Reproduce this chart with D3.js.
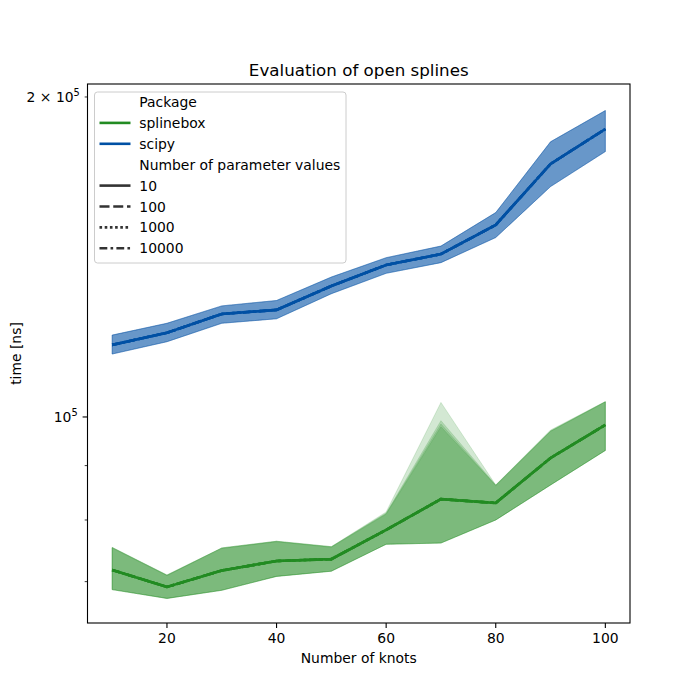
<!DOCTYPE html>
<html>
<head>
<meta charset="utf-8">
<script src="https://cdn.jsdelivr.net/npm/d3@7"></script>
<style>
  body { margin: 0; background: #fff; }
  svg { display: block; font-family: "DejaVu Sans", sans-serif; }
</style>
</head>
<body>
<svg id="chart" width="700" height="700"></svg>
<script>
// ---- data ----
const knots = [10, 20, 30, 40, 50, 60, 70, 80, 90, 100];
const paramCounts = ["10", "100", "1000", "10000"];
const packages = ["splinebox", "scipy"];

const splineboxMean  = [71800, 69200, 71700, 73200, 73500, 78300, 83700, 83000, 91500, 98300];
const splineboxLower = [68800, 67500, 68700, 70800, 71600, 75900, 76100, 80000, 86300, 93000];
const splineboxUpper10    = [75400, 71000, 75300, 76400, 75500, 81400, 103200, 86300, 97200, 103400];
const splineboxUpper100   = [75400, 71000, 75300, 76400, 75500, 81200, 99200, 86300, 97000, 103400];
const splineboxUpper1000  = [75300, 71000, 75300, 76400, 75500, 81100, 98500, 86200, 97000, 103300];
const splineboxUpper10000 = [75300, 70900, 75200, 76300, 75400, 81000, 97900, 86200, 96900, 103300];

const scipyMean  = [116900, 120000, 125000, 126100, 132800, 139000, 142300, 151600, 173000, 186600];
const scipyLower = [114600, 117700, 122500, 123700, 130600, 136500, 139700, 147500, 164700, 177700];
const scipyUpper = [119400, 122500, 127200, 128700, 135400, 141200, 144800, 155700, 181500, 194200];

const yTickMajor = [100000];
const yTickMinor = [70000, 80000, 90000, 200000];
const xTicks = [20, 40, 60, 80, 100];

const colors = { splinebox: "#228b22", scipy: "#0050a4" };
const dashes = { "10": null, "100": "10,3.75", "1000": "2.6,2.6", "10000": "7.8,3.25,2.6,3.25" };

// ---- layout ----
const svg = d3.select("#chart");
const L = 87.5, R = 630, T = 84, B = 623;
const x = d3.scaleLinear().domain([5.5, 104.5]).range([L, R]);
const y = d3.scaleLog().domain([64000, 205700]).range([B, T]);

svg.append("rect").attr("width", 700).attr("height", 700).attr("fill", "#fff");
svg.append("defs").append("clipPath").attr("id", "clip")
  .append("rect").attr("x", L).attr("y", T).attr("width", R - L).attr("height", B - T);

const plot = svg.append("g").attr("clip-path", "url(#clip)");

const area = d3.area().x((d) => x(d.x)).y0((d) => y(d.lo)).y1((d) => y(d.hi));
const line = d3.line().x((d) => x(d.x)).y((d) => y(d.v));

const bandSets = {
  splinebox: [
    { lo: splineboxLower, hi: splineboxUpper10 },
    { lo: splineboxLower, hi: splineboxUpper100 },
    { lo: splineboxLower, hi: splineboxUpper1000 },
    { lo: splineboxLower, hi: splineboxUpper10000 }
  ],
  scipy: [
    { lo: scipyLower, hi: scipyUpper },
    { lo: scipyLower, hi: scipyUpper },
    { lo: scipyLower, hi: scipyUpper },
    { lo: scipyLower, hi: scipyUpper }
  ]
};
const means = { splinebox: splineboxMean, scipy: scipyMean };

packages.forEach((p) => {
  bandSets[p].forEach((b) => {
    const pts = knots.map((k, i) => ({ x: k, lo: b.lo[i], hi: b.hi[i] }));
    plot.append("path").attr("d", area(pts))
      .attr("fill", colors[p]).attr("fill-opacity", 0.2)
      .attr("stroke", colors[p]).attr("stroke-opacity", 0.2).attr("stroke-width", 0.8);
  });
});
packages.forEach((p) => {
  paramCounts.forEach((c) => {
    const pts = knots.map((k, i) => ({ x: k, v: means[p][i] }));
    plot.append("path").attr("d", line(pts))
      .attr("fill", "none").attr("stroke", colors[p]).attr("stroke-width", 2.6)
      .attr("stroke-dasharray", dashes[c]);
  });
});

// ---- axes ----
const frame = svg.append("g");
frame.append("rect").attr("x", L).attr("y", T).attr("width", R - L).attr("height", B - T)
  .attr("fill", "none").attr("stroke", "#000").attr("stroke-width", 1.1);

const xa = svg.append("g");
xTicks.forEach((t) => {
  xa.append("line").attr("x1", x(t)).attr("x2", x(t)).attr("y1", B).attr("y2", B + 4.9)
    .attr("stroke", "#000").attr("stroke-width", 1.1);
  xa.append("text").attr("x", x(t)).attr("y", B + 9.7).attr("dy", "0.76em")
    .attr("text-anchor", "middle").attr("font-size", 13.9).attr("fill", "#000").text(t);
});
svg.append("text").attr("x", (L + R) / 2).attr("y", 663).attr("text-anchor", "middle")
  .attr("font-size", 13.9).attr("fill", "#000").text("Number of knots");

const ya = svg.append("g");
yTickMajor.forEach((t) => {
  ya.append("line").attr("x1", L - 4.9).attr("x2", L).attr("y1", y(t)).attr("y2", y(t))
    .attr("stroke", "#000").attr("stroke-width", 1.1);
});
yTickMinor.forEach((t) => {
  ya.append("line").attr("x1", L - 2.8).attr("x2", L).attr("y1", y(t)).attr("y2", y(t))
    .attr("stroke", "#000").attr("stroke-width", 0.8);
});
// labels: 10^5 and 2 × 10^5
const lab1 = ya.append("text").attr("x", L - 4.9 - 4.9).attr("y", y(100000) + 5.5)
  .attr("text-anchor", "end").attr("font-size", 13.9).attr("fill", "#000");
lab1.append("tspan").text("10");
lab1.append("tspan").attr("dy", -6).attr("font-size", 9.8).text("5");
const lab2 = ya.append("text").attr("x", L - 2.8 - 4.9).attr("y", y(200000) + 5.5)
  .attr("text-anchor", "end").attr("font-size", 13.9).attr("fill", "#000");
lab2.append("tspan").text("2 × 10");
lab2.append("tspan").attr("dy", -6).attr("font-size", 9.8).text("5");

svg.append("text").attr("transform", `translate(21,${(T + B) / 2}) rotate(-90)`)
  .attr("text-anchor", "middle").attr("font-size", 13.9).attr("fill", "#000").text("time [ns]");

svg.append("text").attr("x", (L + R) / 2).attr("y", 76).attr("text-anchor", "middle")
  .attr("font-size", 16.7).attr("fill", "#000").text("Evaluation of open splines");

// ---- legend ----
const lg = svg.append("g");
lg.append("rect").attr("x", 94.5).attr("y", 92).attr("width", 251.5).attr("height", 171)
  .attr("rx", 3).attr("fill", "#fff").attr("fill-opacity", 0.8)
  .attr("stroke", "#cccccc").attr("stroke-width", 1);
const legendRows = [
  { label: "Package", color: null, dash: null },
  { label: "splinebox", color: colors.splinebox, dash: null },
  { label: "scipy", color: colors.scipy, dash: null },
  { label: "Number of parameter values", color: null, dash: null },
  ...paramCounts.map((c) => ({ label: c, color: "#333333", dash: dashes[c] }))
];
legendRows.forEach((r, i) => {
  const cy = 102 + i * 20.9;
  if (r.color) {
    lg.append("line").attr("x1", 99.5).attr("x2", 130.5).attr("y1", cy).attr("y2", cy)
      .attr("stroke", r.color).attr("stroke-width", 2.6).attr("stroke-dasharray", r.dash);
  }
  lg.append("text").attr("x", 139.3).attr("y", cy + 5).attr("font-size", 13.9)
    .attr("fill", "#000").text(r.label);
});
</script>
</body>
</html>
